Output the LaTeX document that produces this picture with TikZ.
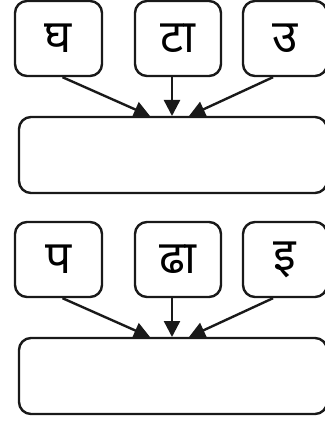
\documentclass[tikz,border=0pt]{standalone}
\usepackage{fontspec}
\newfontfamily\deva[Script=Devanagari]{Noto Sans}
\usetikzlibrary{arrows.meta}
\begin{document}
\begin{tikzpicture}[x=1pt,y=-1pt,
  letterbox/.style={draw=black!90,line width=2.4pt,rounded corners=12pt,inner sep=0pt,font=\deva\fontsize{46}{46}\selectfont},
  bigbox/.style={draw=black!90,line width=2.4pt,rounded corners=12pt},
  arr/.style={line width=2.4pt,draw=black!90,-{Triangle[length=16pt 0,width=16pt 0]}}]
\useasboundingbox (0,0) rectangle (324,422);
\foreach \r/\oy/\a/\b/\c in {1/0/घ/टा/उ, 2/221/प/ढा/इ}{
  \node[letterbox,minimum width=87pt,minimum height=75pt] (a\r) at (58.5,38.5+\oy) {\raisebox{-3pt}{\a}};
  \node[letterbox,minimum width=86pt,minimum height=75pt] (b\r) at (178,38.5+\oy) {\raisebox{-3pt}{\b}};
  \node[letterbox,minimum width=84pt,minimum height=75pt] (c\r) at (285,38.5+\oy) {\raisebox{-3pt}{\c}};
  \node[bigbox,minimum width=308pt,minimum height=76pt] (m\r) at (173,155+\oy) {};
  \coordinate (ea\r) at (150,116+\oy);
  \coordinate (eb\r) at (172,116+\oy);
  \coordinate (ec\r) at (189,116+\oy);
  \draw[arr] ([xshift=4pt]a\r.south) -- (ea\r);
  \draw[arr] ([xshift=-6pt]b\r.south) -- (eb\r);
  \draw[arr] ([xshift=-12pt]c\r.south) -- (ec\r);
}
\end{tikzpicture}
\end{document}
